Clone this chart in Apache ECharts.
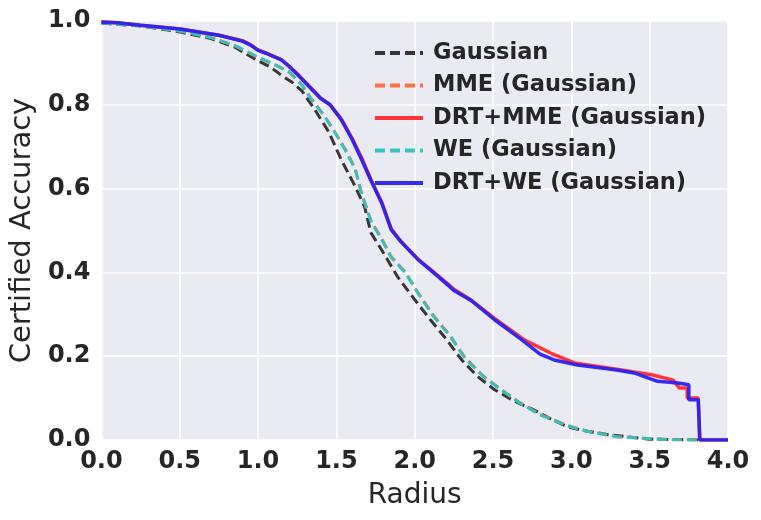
<!DOCTYPE html>
<html>
<head>
    <meta charset="UTF-8">
    <title>Certified Accuracy vs Radius</title>
    <style>
        html, body {
            margin: 0;
            padding: 0;
            width: 100%;
            height: 100%;
            overflow: hidden;
            background: #ffffff;
        }
        #main {
            width: 761px;
            height: 520px;
        }
    </style>
    <script src="https://cdn.jsdelivr.net/npm/echarts@6/dist/echarts.min.js"></script>
</head>
<body>
    <div id="main"></div>

    <script>
        // Legend names, in drawing order
        const seriesNames = ['Gaussian', 'MME (Gaussian)', 'DRT+MME (Gaussian)', 'WE (Gaussian)', 'DRT+WE (Gaussian)'];

        // Gaussian baseline
        const gaussRadius = [0, 0.25, 0.5, 0.7, 0.85, 1.0, 1.08, 1.15, 1.22, 1.28, 1.36, 1.45, 1.53, 1.62, 1.68, 1.72, 1.79, 1.89, 2.0, 2.1, 2.19, 2.3, 2.4, 2.51, 2.63, 2.76, 2.88, 2.98, 3.1, 3.25, 3.5, 3.82];
        const gaussAcc = [0.995, 0.988, 0.974, 0.958, 0.938, 0.905, 0.89, 0.87, 0.853, 0.833, 0.79, 0.736, 0.67, 0.605, 0.557, 0.495, 0.453, 0.39, 0.335, 0.287, 0.246, 0.191, 0.152, 0.12, 0.094, 0.072, 0.048, 0.031, 0.021, 0.012, 0.002, 0];

        // MME and WE (dashed, nearly identical)
        const weRadius = [0, 0.25, 0.5, 0.7, 0.85, 1.0, 1.1, 1.2, 1.28, 1.34, 1.42, 1.49, 1.56, 1.62, 1.66, 1.72, 1.79, 1.85, 1.94, 2.02, 2.12, 2.23, 2.32, 2.44, 2.55, 2.66, 2.8, 2.98, 3.12, 3.29, 3.6, 3.82];
        const mmeAcc = [0.995, 0.989, 0.976, 0.961, 0.941, 0.913, 0.897, 0.878, 0.848, 0.814, 0.776, 0.735, 0.692, 0.648, 0.588, 0.524, 0.48, 0.437, 0.401, 0.352, 0.297, 0.247, 0.197, 0.152, 0.121, 0.092, 0.061, 0.034, 0.02, 0.008, 0.001, 0];
        const weAcc = [0.995, 0.989, 0.976, 0.96, 0.942, 0.914, 0.897, 0.878, 0.847, 0.813, 0.775, 0.734, 0.69, 0.646, 0.59, 0.522, 0.478, 0.436, 0.399, 0.351, 0.295, 0.246, 0.195, 0.151, 0.12, 0.091, 0.06, 0.033, 0.019, 0.008, 0.001, 0];

        // DRT+MME (solid red)
        const drtMmeRadius = [0, 0.1, 0.25, 0.5, 0.75, 0.9, 0.95, 1.0, 1.05, 1.15, 1.2, 1.25, 1.33, 1.4, 1.46, 1.53, 1.6, 1.66, 1.72, 1.79, 1.85, 1.91, 2.02, 2.15, 2.25, 2.36, 2.51, 2.7, 2.87, 3.02, 3.29, 3.52, 3.65, 3.69, 3.74, 3.74, 3.81, 3.82, 4.0];
        const drtMmeAcc = [0.998, 0.996, 0.99, 0.981, 0.966, 0.953, 0.944, 0.931, 0.924, 0.907, 0.892, 0.874, 0.843, 0.816, 0.8, 0.767, 0.72, 0.675, 0.622, 0.567, 0.504, 0.475, 0.432, 0.392, 0.36, 0.334, 0.29, 0.239, 0.207, 0.184, 0.169, 0.155, 0.143, 0.124, 0.124, 0.1, 0.1, 0, 0];

        // DRT+WE (solid blue)
        const drtWeRadius = [0, 0.1, 0.25, 0.5, 0.75, 0.9, 0.95, 1.0, 1.05, 1.15, 1.2, 1.25, 1.33, 1.4, 1.46, 1.53, 1.6, 1.66, 1.72, 1.79, 1.85, 1.91, 2.02, 2.15, 2.25, 2.36, 2.51, 2.68, 2.8, 2.89, 3.04, 3.29, 3.4, 3.55, 3.68, 3.75, 3.75, 3.81, 3.82, 4.0];
        const drtWeAcc = [0.997, 0.996, 0.99, 0.981, 0.966, 0.952, 0.943, 0.93, 0.923, 0.907, 0.891, 0.873, 0.842, 0.815, 0.8, 0.765, 0.718, 0.67, 0.62, 0.565, 0.502, 0.474, 0.431, 0.39, 0.357, 0.333, 0.287, 0.24, 0.205, 0.191, 0.179, 0.167, 0.16, 0.14, 0.136, 0.132, 0.096, 0.096, 0, 0];

        const seriesColors = ['#2d2d2d', '#ff6a3d', '#ff2b2b', '#2ec4c0', '#2b22f2'];

        function pairs(xs, ys) {
            return xs.map((x, i) => [x, ys[i]]);
        }

        function makeSeries(idx, xs, ys, dashed) {
            return {
                name: seriesNames[idx],
                type: 'line',
                data: pairs(xs, ys),
                symbol: 'none',
                showSymbol: false,
                animation: false,
                color: seriesColors[idx],
                lineStyle: {
                    color: seriesColors[idx],
                    width: dashed ? 3 : 3.5,
                    type: dashed ? [10, 5] : 'solid',
                    opacity: 0.95
                },
                emphasis: { disabled: true },
                z: 2 + idx
            };
        }

        const font = 'DejaVu Sans';
        const chart = echarts.init(document.getElementById('main'));

        chart.setOption({
            animation: false,
            backgroundColor: '#ffffff',
            grid: {
                left: 99,
                right: 33,
                top: 21,
                bottom: 80,
                show: true,
                backgroundColor: '#eaeaf2',
                borderWidth: 0
            },
            legend: {
                orient: 'vertical',
                left: 368,
                top: 35,
                itemWidth: 48,
                itemHeight: 14,
                itemGap: 6.5,
                itemStyle: { opacity: 0 },
                lineStyle: { width: 4 },
                textStyle: {
                    fontFamily: font,
                    fontWeight: 'bold',
                    fontSize: 22.5,
                    lineHeight: 26,
                    color: '#262626',
                    padding: [0, 0, 0, 5]
                },
                data: seriesNames
            },
            xAxis: {
                type: 'value',
                min: 0,
                max: 4,
                interval: 0.5,
                name: 'Radius',
                nameLocation: 'middle',
                nameGap: 42,
                nameTextStyle: {
                    fontFamily: font,
                    fontSize: 28,
                    color: '#262626'
                },
                axisLine: { show: false },
                axisTick: { show: false },
                axisLabel: {
                    margin: 10,
                    fontFamily: font,
                    fontWeight: 'bold',
                    fontSize: 24,
                    color: '#262626',
                    formatter: v => v.toFixed(1)
                },
                splitLine: { show: true, lineStyle: { color: '#ffffff', width: 1.5 } }
            },
            yAxis: {
                type: 'value',
                min: 0,
                max: 1,
                interval: 0.2,
                name: 'Certified Accuracy',
                nameLocation: 'middle',
                nameGap: 64,
                nameTextStyle: {
                    fontFamily: font,
                    fontSize: 29,
                    color: '#262626'
                },
                axisLine: { show: false },
                axisTick: { show: false },
                axisLabel: {
                    margin: 11,
                    fontFamily: font,
                    fontWeight: 'bold',
                    fontSize: 24,
                    color: '#262626',
                    formatter: v => v.toFixed(1)
                },
                splitLine: { show: true, lineStyle: { color: '#ffffff', width: 1.5 } }
            },
            series: [
                makeSeries(0, gaussRadius, gaussAcc, true),
                makeSeries(1, weRadius, mmeAcc, true),
                makeSeries(2, drtMmeRadius, drtMmeAcc, false),
                makeSeries(3, weRadius, weAcc, true),
                makeSeries(4, drtWeRadius, drtWeAcc, false)
            ]
        });

        window.addEventListener('resize', () => chart.resize());
    </script>
</body>
</html>
